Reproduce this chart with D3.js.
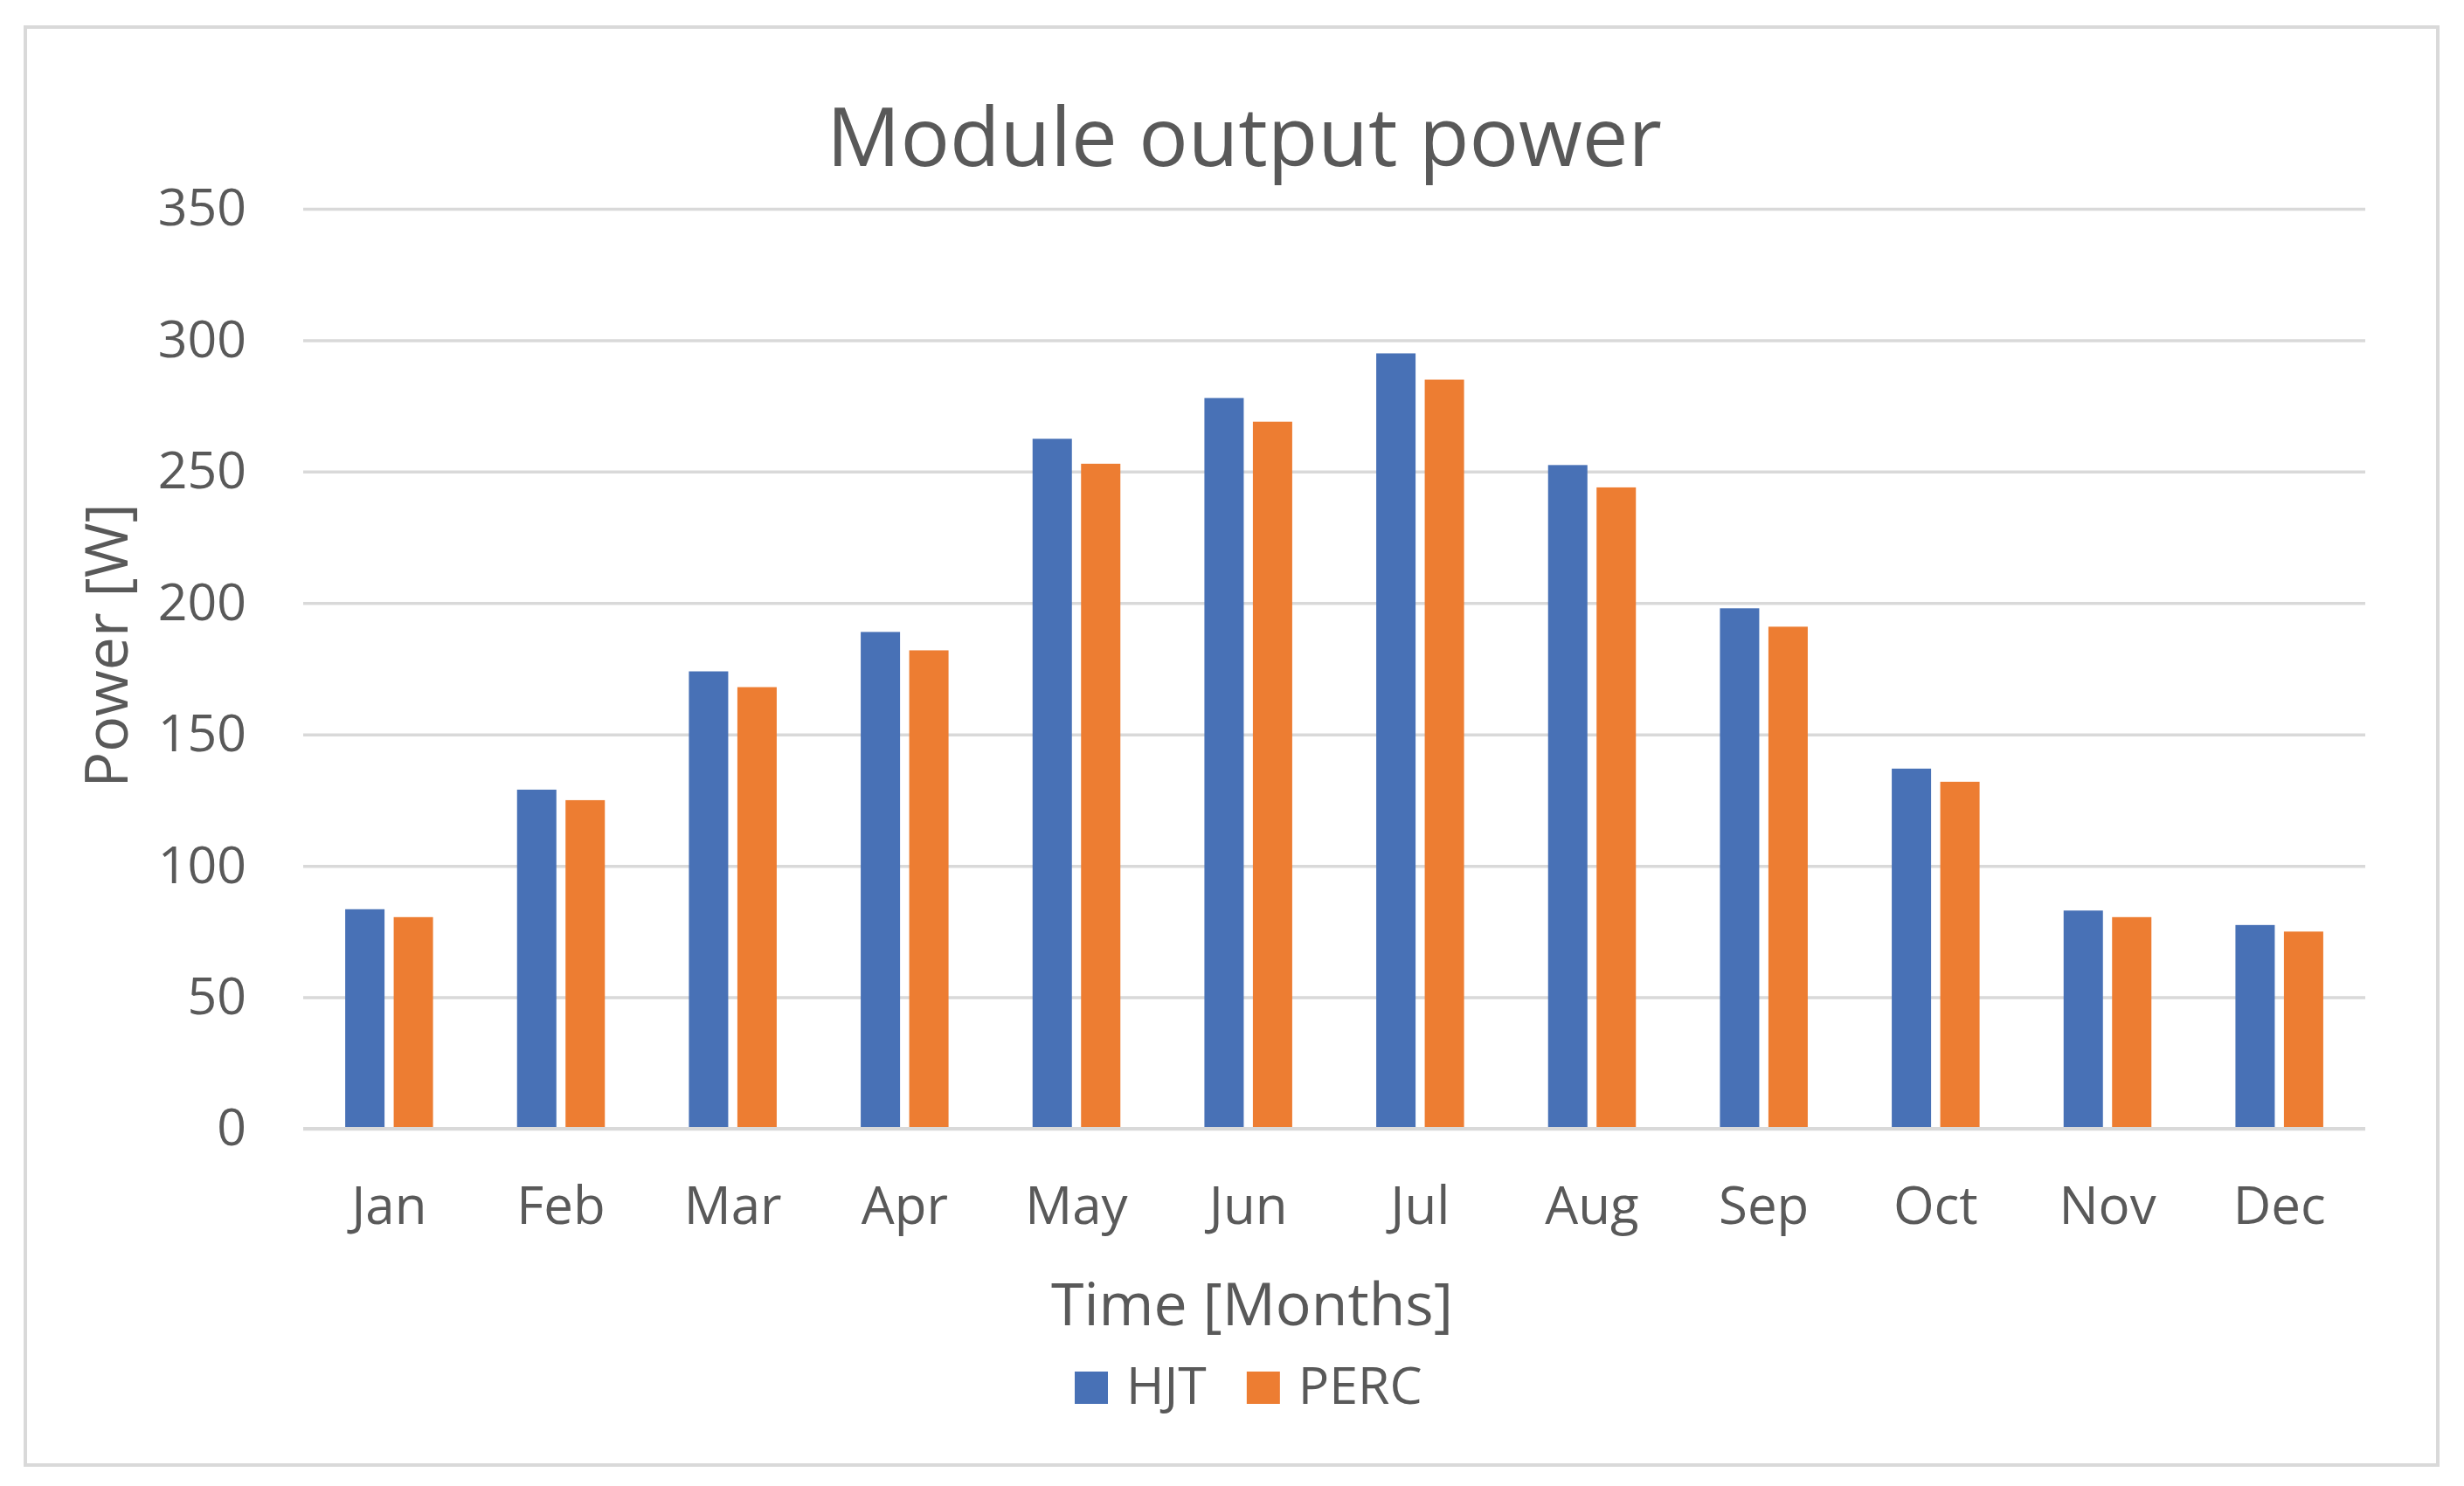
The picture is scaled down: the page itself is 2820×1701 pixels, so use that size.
<!DOCTYPE html>
<html>
<head>
<meta charset="utf-8">
<script src="https://cdn.jsdelivr.net/npm/d3@7"></script>
<style>
  html, body { margin: 0; padding: 0; background: #ffffff; }
  svg { display: block; }
  text { font-family: "Open Sans", "Noto Sans", sans-serif; fill: #595959; }
</style>
</head>
<body>
<svg id="chart" width="2820" height="1701"></svg>
<script>
// ---- data ----
const months = ["Jan", "Feb", "Mar", "Apr", "May", "Jun", "Jul", "Aug", "Sep", "Oct", "Nov", "Dec"];
const seriesNames = ["HJT", "PERC"];
const hjtValues  = [83.5, 129, 174, 189, 262.5, 278, 295, 252.5, 198, 137, 83, 77.5];
const percValues = [80.5, 125, 168, 182, 253, 269, 285, 244, 191, 132, 80.5, 75];
const yTicks = [0, 50, 100, 150, 200, 250, 300, 350];
const seriesColors = ["#4871B6", "#ED7D32"];

const chartTitle = "Module output power";
const xTitle = "Time [Months]";
const yTitle = "Power [W]";

// ---- layout ----
const W = 2820, H = 1701;
const plot = { left: 347, right: 2707, top: 239, bottom: 1292 };
const gridColor = "#d9d9d9";

const svg = d3.select("#chart");

// frame
svg.append("rect")
  .attr("x", 29).attr("y", 31).attr("width", 2761).attr("height", 1646)
  .attr("fill", "#ffffff").attr("stroke", gridColor).attr("stroke-width", 4);

// scales
const y = d3.scaleLinear().domain([0, 350]).range([plot.bottom, plot.top]);
const x0 = d3.scaleBand().domain(months).range([plot.left, plot.right]).padding(0);
const groupW = x0.bandwidth() * 0.511;
const x1 = d3.scaleBand().domain(seriesNames).range([0, groupW]).paddingInner(0.189).paddingOuter(0);
const color = d3.scaleOrdinal().domain(seriesNames).range(seriesColors);

const table = months.map((m, i) => ({ month: m, values: [
  { key: "HJT", value: hjtValues[i] },
  { key: "PERC", value: percValues[i] }
]}));

// gridlines
const grid = svg.append("g")
  .attr("transform", `translate(${plot.left},0)`)
  .call(d3.axisLeft(y).tickValues(yTicks).tickSize(-(plot.right - plot.left)).tickFormat(""));
grid.select(".domain").remove();
grid.selectAll("line").attr("stroke", gridColor).attr("stroke-width", 3.5);

// y labels
const yAxis = svg.append("g")
  .attr("transform", `translate(${plot.left},0)`)
  .call(d3.axisLeft(y).tickValues(yTicks).tickSize(0).tickPadding(65));
yAxis.select(".domain").remove();
yAxis.selectAll("text")
  .attr("font-size", 59).attr("fill", "#595959")
  .style("font-family", '"Open Sans", "Noto Sans", sans-serif');

// bars
const groups = svg.append("g").selectAll("g")
  .data(table).join("g")
  .attr("transform", d => `translate(${x0(d.month) + (x0.bandwidth() - groupW) / 2},0)`);
groups.selectAll("rect")
  .data(d => d.values).join("rect")
  .attr("x", d => x1(d.key))
  .attr("y", d => y(d.value))
  .attr("width", x1.bandwidth())
  .attr("height", d => y(0) - y(d.value))
  .attr("fill", d => color(d.key));

// x axis
const xAxis = svg.append("g")
  .attr("transform", `translate(0,${plot.bottom})`)
  .call(d3.axisBottom(x0).tickSize(0).tickPadding(66));
xAxis.select(".domain").remove();
xAxis.selectAll("text")
  .attr("font-size", 60).attr("fill", "#595959")
  .style("font-family", '"Open Sans", "Noto Sans", sans-serif');
svg.append("line")
  .attr("x1", plot.left).attr("x2", plot.right)
  .attr("y1", y(0)).attr("y2", y(0))
  .attr("stroke", gridColor).attr("stroke-width", 4);

// title
svg.append("text")
  .attr("x", 1424).attr("y", 190)
  .attr("text-anchor", "middle")
  .attr("font-size", 94)
  .text(chartTitle);

// axis titles
svg.append("text")
  .attr("x", 1433).attr("y", 1517)
  .attr("text-anchor", "middle")
  .attr("font-size", 68)
  .text(xTitle);

svg.append("text")
  .attr("transform", "translate(146,739) rotate(-90)")
  .attr("text-anchor", "middle")
  .attr("font-size", 68)
  .text(yTitle);

// legend
const legend = svg.append("g").attr("transform", "translate(1230,1607)");
let lx = 0;
seriesNames.forEach((name, i) => {
  const g = legend.append("g").attr("transform", `translate(${lx},0)`);
  g.append("rect").attr("x", 0).attr("y", -37).attr("width", 38).attr("height", 37)
    .attr("fill", color(name));
  const t = g.append("text").attr("x", 59).attr("y", 0).attr("font-size", 59).text(name);
  lx += 59 + t.node().getComputedTextLength() + 46;
});
</script>
</body>
</html>
